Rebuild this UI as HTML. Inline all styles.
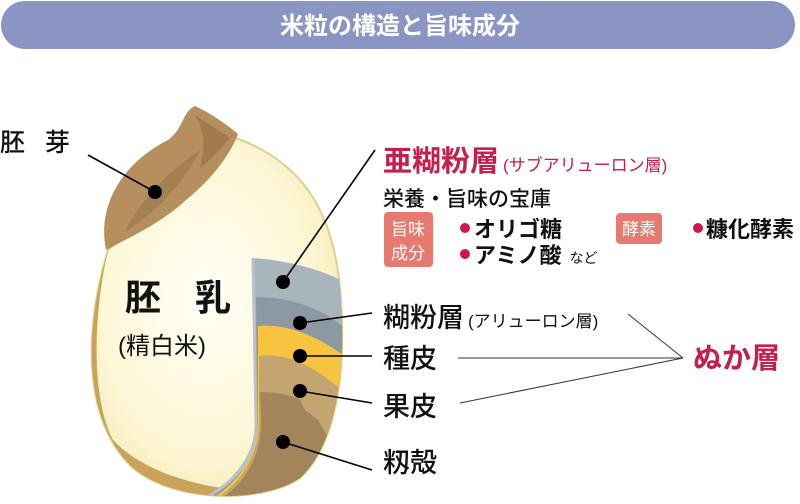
<!DOCTYPE html>
<html><head><meta charset="utf-8"><style>
body{margin:0;width:800px;height:499px;background:#fff;overflow:hidden;font-family:"Liberation Sans","Noto Sans CJK JP",sans-serif}
</style></head><body>
<svg width="800" height="499" viewBox="0 0 800 499" xmlns="http://www.w3.org/2000/svg" font-family="Liberation Sans, Noto Sans CJK JP, sans-serif">
<defs>
<radialGradient id="cream" cx="0.45" cy="0.45" r="0.6"><stop offset="0" stop-color="#fffef6"/><stop offset="0.7" stop-color="#fdf7d6"/><stop offset="1" stop-color="#f6ecb8"/></radialGradient>
<clipPath id="grain"><path d="M108,250 C84,330 82,420 133,468 C178,505 265,502 300,478 C336,445 346,372 341,300 C336,222 310,165 236,138 Z"/></clipPath>
</defs>
<rect x="1" y="1" width="794" height="48" rx="24" fill="#8a95c4"/>
<text x="400" y="34" text-anchor="middle" font-size="24" font-weight="bold" fill="#fff">米粒の構造と旨味成分</text>

<path d="M108,250 C84,330 82,420 133,468 C178,505 265,502 300,478 C336,445 346,372 341,300 C336,222 310,165 236,138 Z" fill="url(#cream)" stroke="#dfd08a" stroke-width="2"/>
<g clip-path="url(#grain)">
 <path d="M108,250 C84,330 82,420 133,468 C178,505 265,502 300,478 L280,490 C230,495 150,480 113,440 C92,400 92,320 108,250Z" fill="#c9a35a"/>
 <path d="M253,258 Q310,262 350,285 L350,500 L200,500 Q255,470 256,420 Z" fill="#a9b5bd"/>
 <path d="M256,297 Q310,297 350,332 L350,500 L200,500 Q257,470 257,420 Z" fill="#8d99a2"/>
 <path d="M258,326 Q300,322 350,360 L350,500 L210,500 Q258,470 258,420 Z" fill="#f6c43f"/>
 <path d="M259,356 Q300,350 350,398 L350,500 L215,500 Q259,470 259,420 Z" fill="#c4a470"/>
 <path d="M260,392 Q290,393 300,400 L305,410 L318,420 L330,440 L350,450 L350,500 L220,500 Q262,470 261,420 Z" fill="#a3855b"/>
 <path d="M253,258 L256,420 Q258,470 205,498" fill="none" stroke="#b9c2c8" stroke-width="3"/>
</g>
<path d="M106,250 C96,200 128,160 168,140 C184,128 182,112 195,106 C212,114 226,124 238,134 C232,150 216,176 186,200 C160,224 132,236 106,250 Z" fill="#b58f5e"/>
<path d="M125,232 C140,200 170,170 200,150 C185,180 160,210 125,232Z" fill="#a47f52"/>
<path d="M195,115 C210,125 222,132 230,138 C220,150 210,160 200,168 C205,150 205,130 195,115Z" fill="#9f7b4e"/>

<g stroke="#000" stroke-width="1.6">
<line x1="88" y1="155" x2="155" y2="192"/>
<line x1="375" y1="150" x2="283" y2="282"/>
<line x1="372" y1="313" x2="300" y2="323"/>
<line x1="372" y1="356" x2="300" y2="356"/>
<line x1="372" y1="403" x2="300" y2="391"/>
<line x1="372" y1="470" x2="283" y2="442"/>
</g>
<g fill="#000">
<circle cx="155" cy="192" r="7"/><circle cx="283" cy="282" r="7"/><circle cx="300" cy="323" r="7"/>
<circle cx="300" cy="356" r="7"/><circle cx="300" cy="391" r="7"/><circle cx="283" cy="442" r="7"/>
</g>
<g stroke="#333" stroke-width="1">
<line x1="628" y1="314" x2="683" y2="358"/>
<line x1="458" y1="358" x2="683" y2="358"/>
<line x1="460" y1="403" x2="683" y2="358"/>
</g>

<text x="0" y="151" font-size="25" font-weight="500" fill="#111" letter-spacing="20">胚芽</text>
<text x="125" y="310" font-size="36" font-weight="bold" fill="#111" letter-spacing="34">胚乳</text>
<text x="118" y="354" font-size="24" fill="#111">(精白米)</text>

<text x="383" y="171" font-size="29" font-weight="bold" fill="#c3204e">亜糊粉層<tspan font-size="17" dx="4" font-weight="normal">(サブアリューロン層)</tspan></text>
<text x="383" y="206" font-size="21" font-weight="500" fill="#111">栄養・旨味の宝庫</text>
<rect x="384" y="212" width="49" height="55" rx="4" fill="#e77a70"/>
<text x="408" y="235" font-size="17" fill="#fff" text-anchor="middle">旨味</text>
<text x="408" y="259" font-size="17" fill="#fff" text-anchor="middle">成分</text>
<circle cx="465" cy="228" r="5" fill="#d0174d"/>
<text x="474" y="237" font-size="22" font-weight="bold" fill="#111">オリゴ糖</text>
<circle cx="465" cy="254" r="5" fill="#d0174d"/>
<text x="474" y="263" font-size="22" font-weight="bold" fill="#111">アミノ酸<tspan font-size="14" font-weight="normal" dx="8">など</tspan></text>
<rect x="616" y="213" width="46" height="31" rx="4" fill="#e77a70"/>
<text x="639" y="235" font-size="17" fill="#fff" text-anchor="middle">酵素</text>
<circle cx="698" cy="228" r="5" fill="#d0174d"/>
<text x="706" y="237" font-size="22" font-weight="bold" fill="#111">糠化酵素</text>

<text x="383" y="327" font-size="27" font-weight="500" fill="#111">糊粉層<tspan font-size="17" dx="4" font-weight="normal">(アリューロン層)</tspan></text>
<text x="383" y="368" font-size="27" font-weight="500" fill="#111">種皮</text>
<text x="383" y="416" font-size="27" font-weight="500" fill="#111">果皮</text>
<text x="383" y="472" font-size="27" font-weight="500" fill="#111">籾殻</text>
<text x="693" y="368" font-size="29" font-weight="bold" fill="#c3204e">ぬか層</text>
</svg>
</body></html>
